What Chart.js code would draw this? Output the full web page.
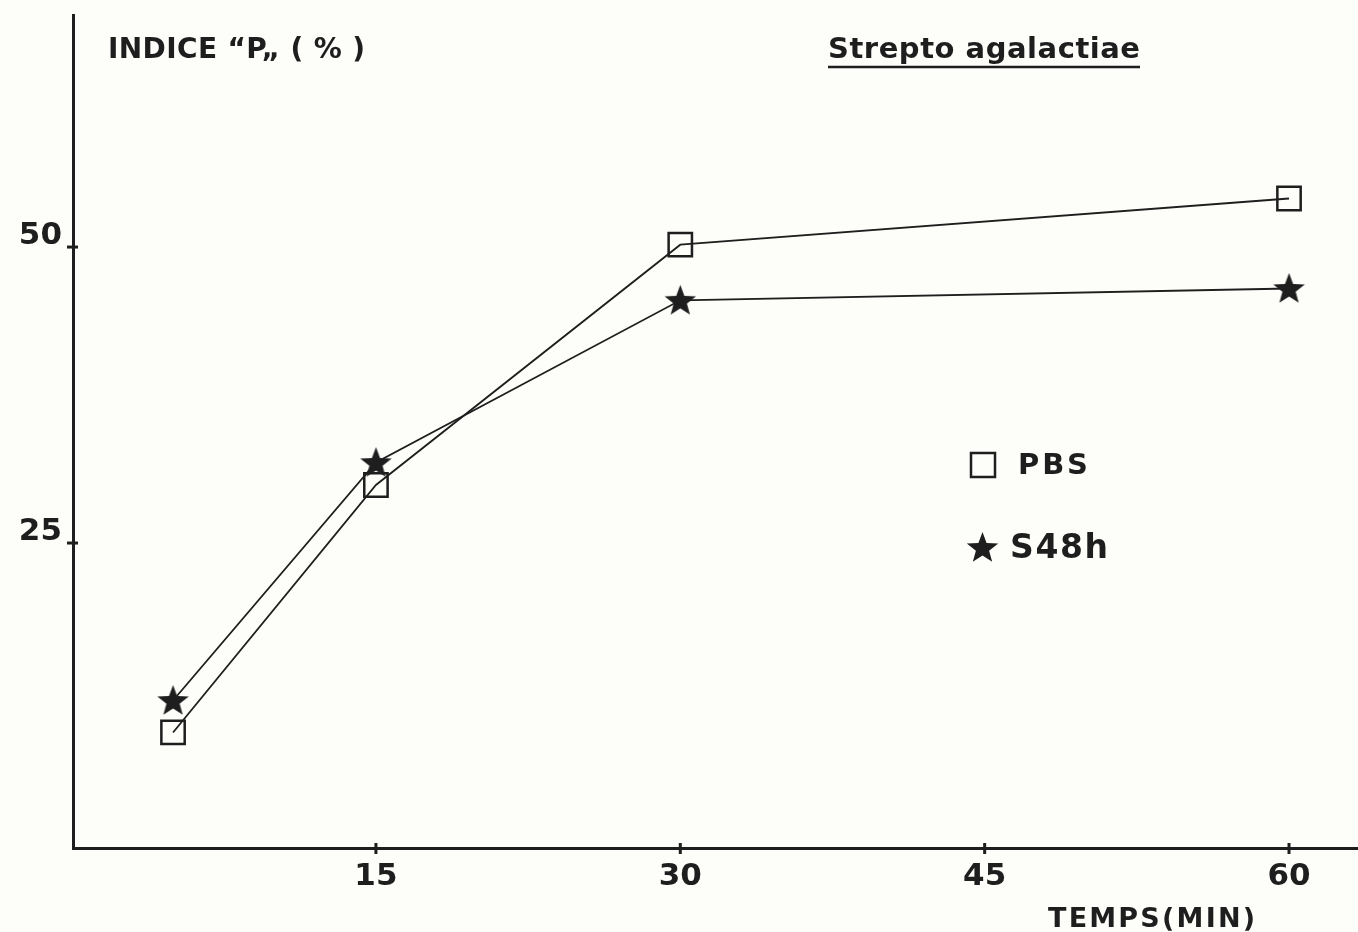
<!DOCTYPE html>
<html>
<head>
<meta charset="utf-8">
<script src="https://cdn.jsdelivr.net/npm/chart.js@4/dist/chart.umd.min.js"></script>
<style>
html,body{margin:0;padding:0;background:#fdfdfa;}
#wrap{width:1358px;height:932px;position:relative;}
</style>
</head>
<body>
<div id="wrap"><canvas id="c" width="1358" height="932"></canvas></div>
<script>
// ---- data ----
const timesMin = [5, 15, 30, 60];
const pbsValues = [9, 29.9, 50.2, 54.1];
const s48hValues = [11.7, 31.8, 45.5, 46.5];
const xTickValues = [15, 30, 45, 60];
const yTickValues = [25, 50];
const seriesNames = ['PBS', 'S48h'];
const yAxisTitle = 'INDICE “P„ ( % )';
const xAxisTitle = 'TEMPS(MIN)';
const chartTitle = 'Strepto agalactiae';

const INK = '#1e1e1e';
const FONT = '"DejaVu Sans", "Liberation Sans", Arial, sans-serif';

function makeStar(size) {
  const c = document.createElement('canvas');
  c.width = c.height = size;
  const g = c.getContext('2d');
  g.fillStyle = INK;
  g.beginPath();
  const cx = size / 2, cy = size / 2 + 1, R = size / 2 - 1, r = R * 0.42;
  for (let i = 0; i < 10; i++) {
    const a = -Math.PI / 2 + i * Math.PI / 5;
    const rr = i % 2 ? r : R;
    g.lineTo(cx + rr * Math.cos(a), cy + rr * Math.sin(a));
  }
  g.closePath();
  g.fill();
  return c;
}
const starImg = makeStar(35);

// draw text stretched (letter-spaced) to a target width
function fitText(ctx, text, x, y, targetW, font) {
  ctx.font = font;
  ctx.letterSpacing = '0px';
  const w = ctx.measureText(text).width;
  const n = Math.max(1, text.length - 1);
  const ls = (targetW - w) / n;
  ctx.letterSpacing = ls.toFixed(2) + 'px';
  ctx.fillText(text, x, y);
  ctx.letterSpacing = '0px';
}

const decor = {
  id: 'decor',
  afterDraw(chart) {
    const ctx = chart.ctx;
    const xs = chart.scales.x, ys = chart.scales.y;
    ctx.save();
    ctx.strokeStyle = INK;
    ctx.fillStyle = INK;
    // tick marks crossing the axes
    ctx.lineWidth = 3;
    xTickValues.forEach(v => {
      const px = xs.getPixelForValue(v);
      ctx.beginPath(); ctx.moveTo(px, ys.bottom - 5); ctx.lineTo(px, ys.bottom + 6); ctx.stroke();
    });
    yTickValues.forEach(v => {
      const py = ys.getPixelForValue(v);
      ctx.beginPath(); ctx.moveTo(xs.left - 6, py); ctx.lineTo(xs.left + 5, py); ctx.stroke();
    });
    ctx.textBaseline = 'alphabetic';
    ctx.textAlign = 'left';
    // y axis title
    fitText(ctx, yAxisTitle, 108, 58, 257, 'bold 28px ' + FONT);
    // chart title, underlined
    fitText(ctx, chartTitle, 828, 58, 312, 'bold 29px ' + FONT);
    ctx.lineWidth = 2.5;
    ctx.beginPath(); ctx.moveTo(828, 67); ctx.lineTo(1140, 67); ctx.stroke();
    // x axis title
    fitText(ctx, xAxisTitle, 1048, 927, 207, 'bold 27px ' + FONT);
    // legend
    ctx.lineWidth = 2.5;
    ctx.strokeRect(971, 453, 24, 24);
    fitText(ctx, seriesNames[0], 1018, 474, 70, 'bold 29px ' + FONT);
    ctx.drawImage(starImg, 965, 530, 35, 35);
    fitText(ctx, seriesNames[1], 1010, 558, 98, 'bold 33px ' + FONT);
    ctx.restore();
  }
};

new Chart(document.getElementById('c'), {
  type: 'line',
  data: {
    datasets: [
      {
        label: seriesNames[0],
        data: timesMin.map((t, i) => ({x: t, y: pbsValues[i]})),
        borderColor: INK, borderWidth: 1.8,
        pointStyle: 'rect', pointRadius: 16.5, pointBorderWidth: 2.5,
        pointBorderColor: INK, pointBackgroundColor: 'rgba(0,0,0,0)',
        tension: 0
      },
      {
        label: seriesNames[1],
        data: timesMin.map((t, i) => ({x: t, y: s48hValues[i]})),
        borderColor: INK, borderWidth: 1.8,
        pointStyle: starImg, pointRadius: 18,
        tension: 0
      }
    ]
  },
  options: {
    responsive: false,
    animation: false,
    layout: {autoPadding: false, padding: {top: 15, left: 0, right: 0, bottom: 0}},
    plugins: {legend: {display: false}, tooltip: {enabled: false}},
    scales: {
      x: {
        type: 'linear', min: 0.07, max: 63.4,
        afterBuildTicks: s => { s.ticks = xTickValues.map(v => ({value: v})); },
        afterFit: s => { s.height = 84; s.paddingLeft = 0; s.paddingRight = 0; },
        grid: {display: true, drawOnChartArea: false, drawTicks: false},
        border: {display: true, color: INK, width: 3},
        ticks: {color: INK, font: {family: FONT, size: 31, weight: 'bold'}, padding: 10, maxRotation: 0, autoSkip: false}
      },
      y: {
        type: 'linear', min: -0.76, max: 69.6,
        afterBuildTicks: s => { s.ticks = yTickValues.map(v => ({value: v})); },
        afterFit: s => { s.width = 73; s.paddingTop = 0; s.paddingBottom = 0; },
        grid: {display: true, drawOnChartArea: false, drawTicks: false},
        border: {display: true, color: INK, width: 3},
        ticks: {color: INK, font: {family: FONT, size: 31, weight: 'bold'}, padding: 11, labelOffset: -11}
      }
    }
  },
  plugins: [decor]
});
</script>
</body>
</html>
